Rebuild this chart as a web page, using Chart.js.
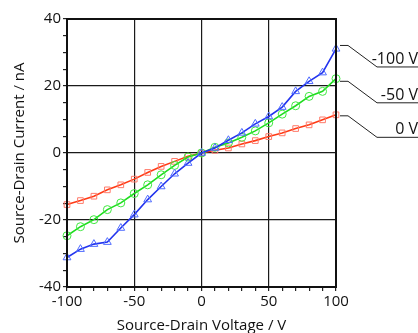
<!DOCTYPE html>
<html>
<head>
<meta charset="utf-8">
<script src="https://cdn.jsdelivr.net/npm/chart.js@4"></script>
<style>
  html, body { margin: 0; padding: 0; background: #fff; }
  #wrap { width: 418px; height: 333px; }
</style>
</head>
<body>
<div id="wrap"><canvas id="ivChart" width="418" height="333"></canvas></div>
<script>
const voltages = [-100, -90, -80, -70, -60, -50, -40, -30, -20, -10, 0, 10, 20, 30, 40, 50, 60, 70, 80, 90, 100];

const current100 = [-31.2, -28.7, -27.2, -26.6, -22.4, -18.4, -13.9, -10, -6.2, -3, 0, 1.5, 3.8, 6, 8.7, 10.9, 13.7, 18.4, 21.4, 24, 31.1];
const current50 = [-24.7, -22, -19.9, -16.9, -14.9, -12.1, -9.5, -6.5, -3.7, -1.2, 0, 1.7, 3, 4.7, 6.6, 9, 11.6, 14.1, 16.9, 18.4, 22.2];
const current0 = [-15.4, -14.2, -12.9, -11, -9.5, -7.8, -5.8, -4, -2.5, -1, 0, 0.8, 1.5, 2.7, 3.7, 4.9, 6, 7.3, 8.4, 9.9, 11.4];

const seriesNames = ['-100 V', '-50 V', '0 V'];
const labelAnchors = [32.1, 21.4, 11.1]; // nA, where the leader line starts

const xTickLabels = [-100, -50, 0, 50, 100];
const yTickLabels = [-40, -20, 0, 20, 40];

const FONT = "'Open Sans', sans-serif";

function pts(vals) {
  return voltages.map((v, i) => ({ x: v, y: vals[i] }));
}

const frameAndLabels = {
  id: 'frameAndLabels',
  afterDraw(chart) {
    const ctx = chart.ctx;
    const a = chart.chartArea;
    const ys = chart.scales.y;
    ctx.save();
    ctx.strokeStyle = '#111';
    ctx.lineWidth = 2;
    ctx.strokeRect(a.left, a.top, a.right - a.left, a.bottom - a.top);

    ctx.lineWidth = 1;
    ctx.strokeStyle = '#222';
    ctx.fillStyle = '#111';
    ctx.font = '16px ' + FONT;
    ctx.textAlign = 'right';
    ctx.textBaseline = 'alphabetic';
    seriesNames.forEach((name, i) => {
      const y0 = ys.getPixelForValue(labelAnchors[i]);
      const x0 = a.right + 4;
      ctx.beginPath();
      ctx.moveTo(x0, y0);
      ctx.lineTo(x0 + 8, y0);
      ctx.lineTo(x0 + 37, y0 + 21.5);
      ctx.lineTo(chart.width, y0 + 21.5);
      ctx.stroke();
      ctx.fillText(name, chart.width, y0 + 18.5);
    });
    ctx.restore();
  }
};

const ctx = document.getElementById('ivChart').getContext('2d');
new Chart(ctx, {
  type: 'line',
  data: {
    datasets: [
      {
        label: seriesNames[0],
        data: pts(current100),
        borderColor: '#2233ee',
        borderWidth: 1.6,
        pointStyle: 'triangle',
        pointRadius: 4.5,
        pointBorderColor: '#4f6bff',
        pointBackgroundColor: 'rgba(0,0,0,0)',
        pointBorderWidth: 1,
        clip: false
      },
      {
        label: seriesNames[1],
        data: pts(current50),
        borderColor: '#1fdc1f',
        borderWidth: 1.6,
        pointStyle: 'circle',
        pointRadius: 4,
        pointBorderColor: '#3fe83f',
        pointBackgroundColor: 'rgba(0,0,0,0)',
        pointBorderWidth: 1,
        clip: false
      },
      {
        label: seriesNames[2],
        data: pts(current0),
        borderColor: '#ff3a14',
        borderWidth: 1.6,
        pointStyle: 'rect',
        pointRadius: 4,
        pointBorderColor: '#ff7a6a',
        pointBackgroundColor: 'rgba(0,0,0,0)',
        pointBorderWidth: 1,
        clip: false
      }
    ]
  },
  options: {
    responsive: false,
    animation: false,
    layout: { padding: { top: 19, right: 82, left: 0, bottom: 0 } },
    plugins: { legend: { display: false }, tooltip: { enabled: false } },
    scales: {
      x: {
        type: 'linear',
        min: -100,
        max: 100,
        afterFit(s) { s.height = 46; },
        ticks: {
          stepSize: 10,
          autoSkip: false,
          maxRotation: 0,
          padding: 2,
          color: '#111',
          font: { family: FONT, size: 15 },
          callback: v => xTickLabels.includes(v) ? String(v) : ''
        },
        grid: {
          color: c => (c.tick && c.tick.value % 50 === 0) ? '#1a1a1a' : 'rgba(0,0,0,0)',
          tickColor: '#222',
          tickLength: 4,
          lineWidth: 1.2
        },
        border: { display: true, color: '#111', width: 2 },
        title: {
          display: true,
          text: 'Source-Drain Voltage / V',
          color: '#111',
          font: { family: FONT, size: 15, lineHeight: 1 },
          padding: { top: 0, bottom: 0 }
        }
      },
      y: {
        type: 'linear',
        min: -40,
        max: 40,
        afterFit(s) { s.width = 67; },
        ticks: {
          stepSize: 5,
          autoSkip: false,
          padding: 2,
          color: '#111',
          font: { family: FONT, size: 15 },
          callback: v => yTickLabels.includes(v) ? String(v) : ''
        },
        grid: {
          color: c => (c.tick && c.tick.value % 20 === 0) ? '#1a1a1a' : 'rgba(0,0,0,0)',
          tickColor: '#222',
          tickLength: 4,
          lineWidth: 1.2
        },
        border: { display: true, color: '#111', width: 2 },
        title: {
          display: true,
          text: 'Source-Drain Current / nA',
          color: '#111',
          font: { family: FONT, size: 15, lineHeight: 1.2 },
          padding: { top: 11, bottom: 0 }
        }
      }
    }
  },
  plugins: [frameAndLabels]
});
</script>
</body>
</html>
